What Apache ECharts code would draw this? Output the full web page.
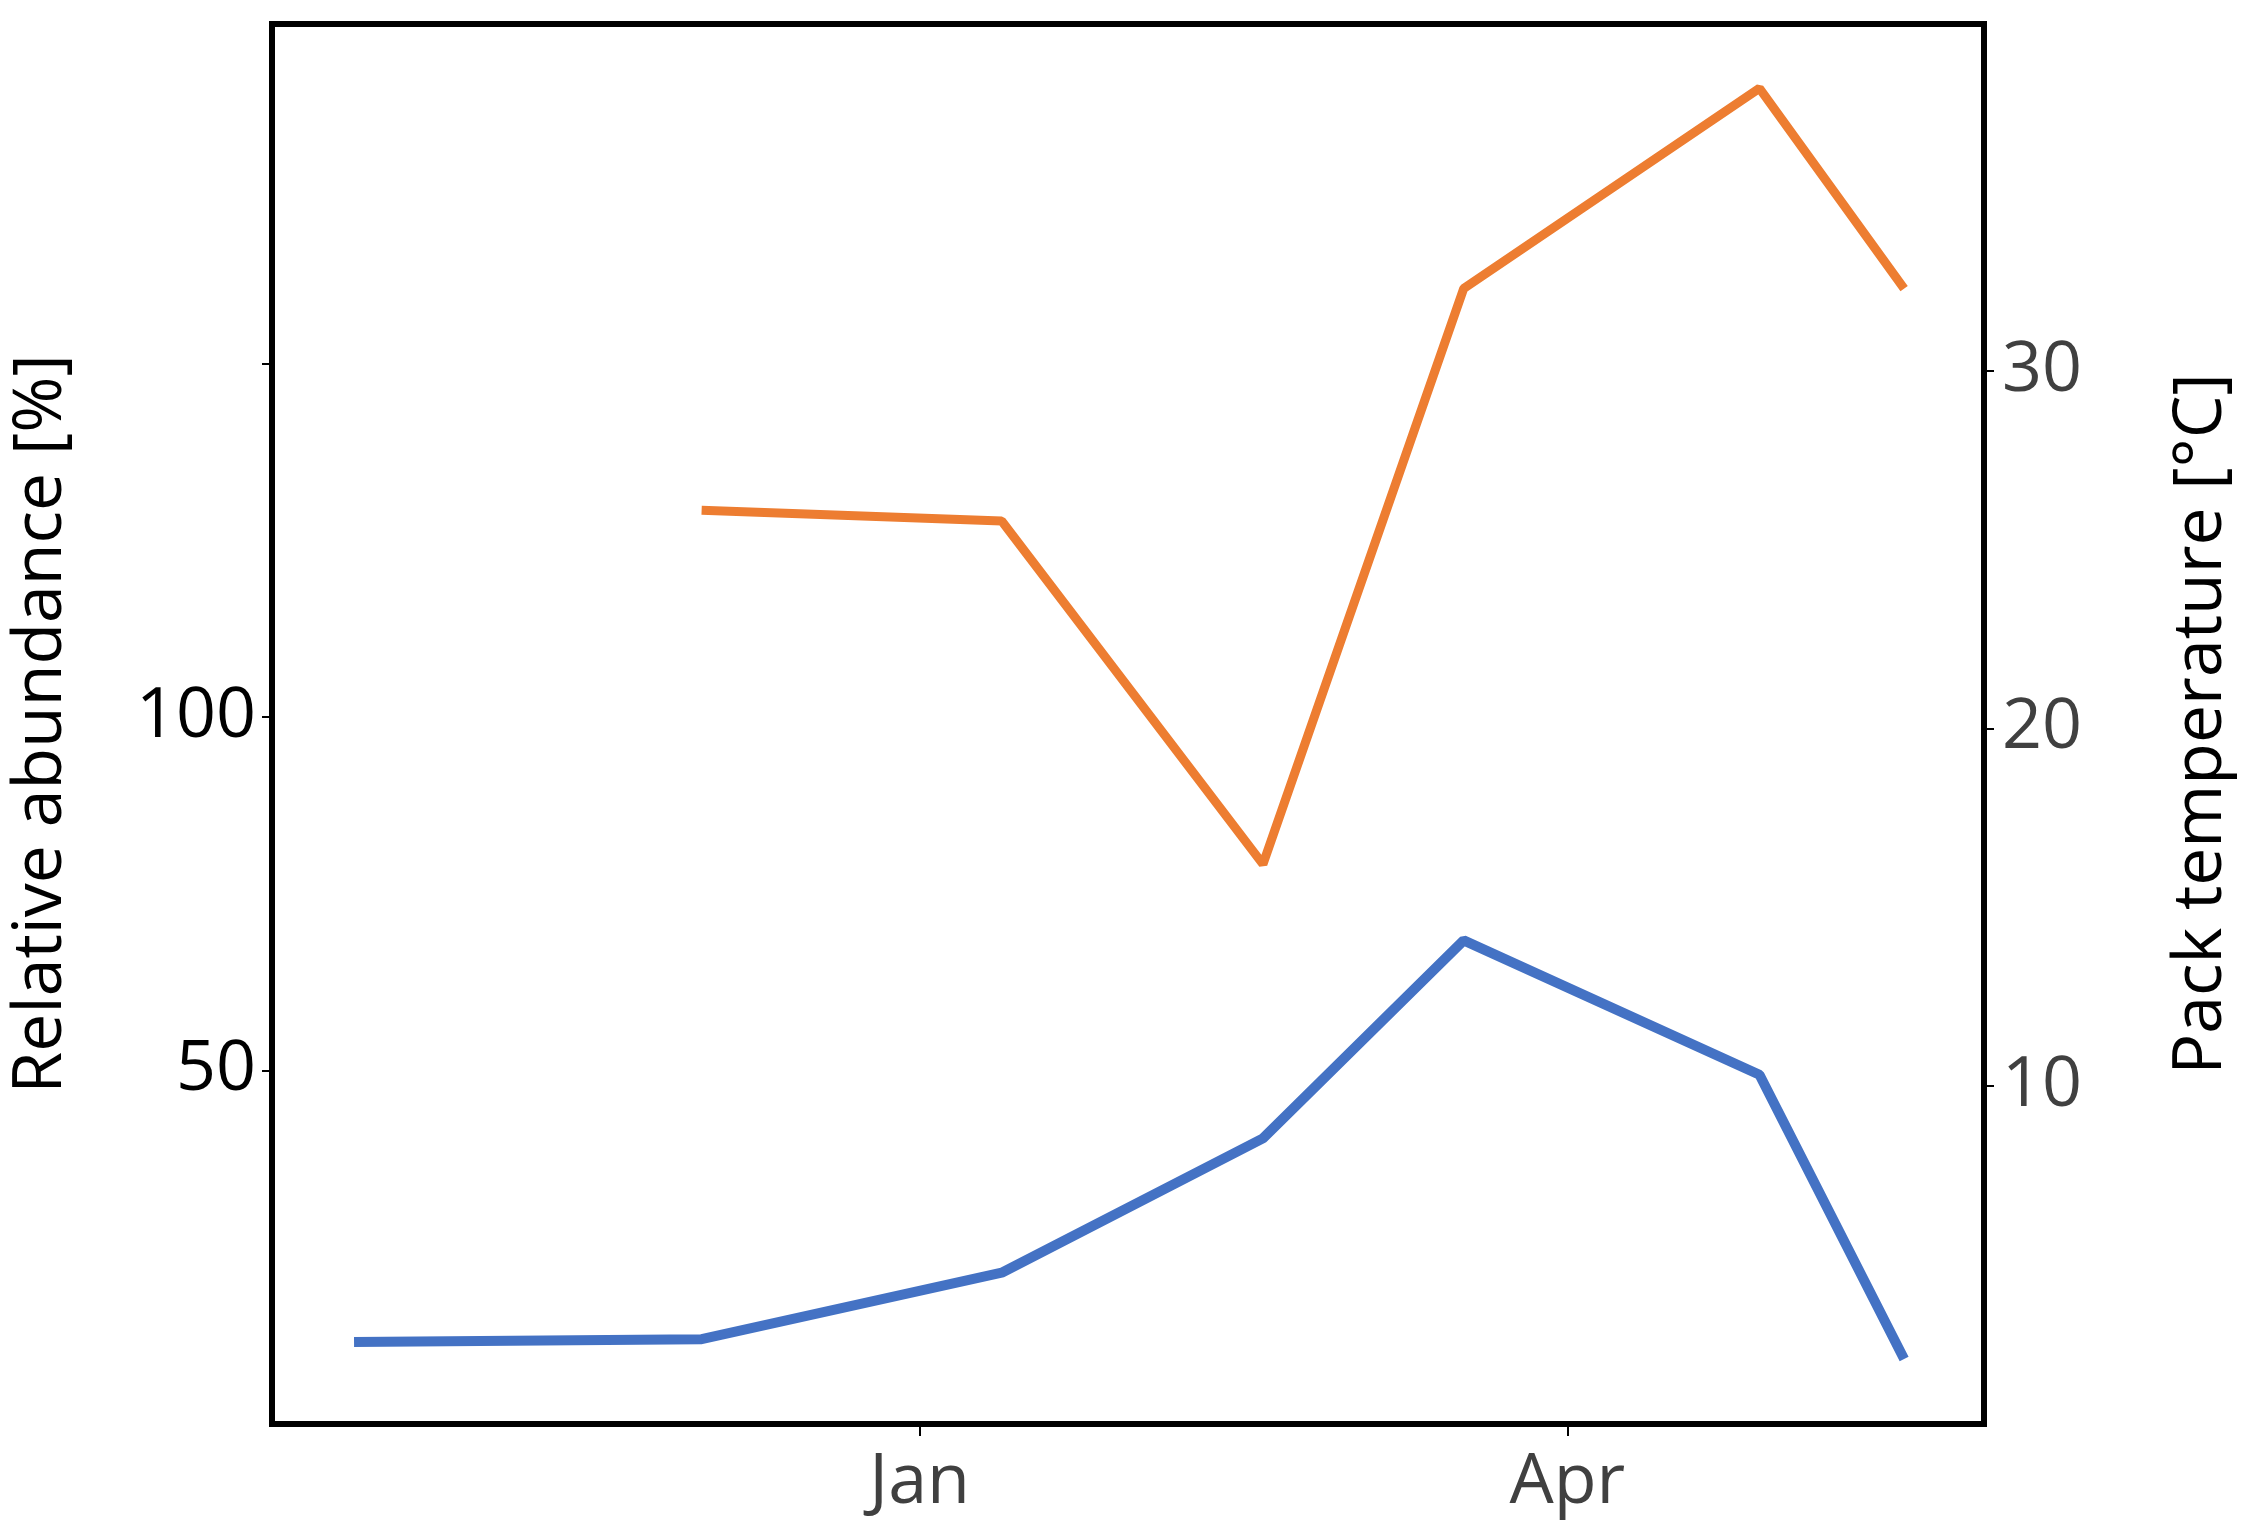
<!DOCTYPE html>
<html>
  <head>
    <meta charset="utf-8" />
    <title>Abundance vs temperature</title>
    <script src="https://cdn.jsdelivr.net/npm/echarts@6/dist/echarts.min.js"></script>
  </head>
  <body style="margin:0;background:#fff;">
    <div id="main" style="width: 2244px;height:1524px;"></div>
    <script type="text/javascript">
      // months relative to Jan (0 = Jan, 3 = Apr)
      var abundanceMonths = [-2.62, -1.01, 0.38, 1.59, 2.52, 3.89, 4.56];
      var abundanceValues = [11.6, 12.0, 21.4, 40.4, 68.4, 49.4, 9.2];
      var tempMonths = [-1.01, 0.38, 1.59, 2.52, 3.89, 4.56];
      var tempValues = [26.1, 25.8, 16.2, 32.3, 37.9, 32.3];
      var monthTicks = [0, 3];
      var monthNames = {0: 'Jan', 3: 'Apr'};

      function pairs(xs, ys) {
        return xs.map(function (x, i) { return [x, ys[i]]; });
      }

      var font = '"Open Sans", sans-serif';
      var myChart = echarts.init(document.getElementById('main'));
      var option = {
        animation: false,
        grid: {
          left: 262, right: 244, top: 24, bottom: 100,
          show: true, borderColor: '#000', borderWidth: 6
        },
        xAxis: {
          type: 'value', min: -3, max: 4.93,
          splitLine: { show: false },
          axisLine: { show: false, onZero: false },
          axisTick: { show: true, length: 12, customValues: monthTicks, lineStyle: { color: '#000', width: 2 } },
          axisLabel: {
            customValues: monthTicks, margin: 24, fontSize: 70, fontFamily: font, color: '#404040',
            formatter: function (v) { return monthNames[v] || ''; }
          }
        },
        yAxis: [{
          type: 'value', min: 0, max: 198, position: 'left',
          name: 'Relative abundance [%]', nameLocation: 'middle', nameGap: 196,
          nameTextStyle: { fontSize: 68, fontFamily: font, color: '#000' },
          splitLine: { show: false },
          axisLine: { show: false, onZero: false },
          axisTick: { show: true, length: 10, customValues: [50, 100, 150], lineStyle: { color: '#000', width: 2 } },
          axisLabel: { customValues: [50, 100], margin: 16, fontSize: 70, fontFamily: font, color: '#000' }
        }, {
          type: 'value', min: 0.54, max: 39.7, position: 'right',
          name: 'Pack temperature [°C]', nameLocation: 'middle', nameGap: 184, nameRotate: 90,
          nameTextStyle: { fontSize: 68, fontFamily: font, color: '#000' },
          splitLine: { show: false },
          axisLine: { show: false, onZero: false },
          axisTick: { show: true, length: 10, customValues: [10, 20, 30], lineStyle: { color: '#000', width: 2 } },
          axisLabel: { customValues: [10, 20, 30], margin: 18, fontSize: 70, fontFamily: font, color: '#404040' }
        }],
        series: [{
          type: 'line', yAxisIndex: 0, data: pairs(abundanceMonths, abundanceValues),
          showSymbol: false, lineStyle: { color: '#4472C4', width: 10 }
        }, {
          type: 'line', yAxisIndex: 1, data: pairs(tempMonths, tempValues),
          showSymbol: false, lineStyle: { color: '#ED7D31', width: 9 }
        }]
      };
      myChart.setOption(option);
    </script>
  </body>
</html>
